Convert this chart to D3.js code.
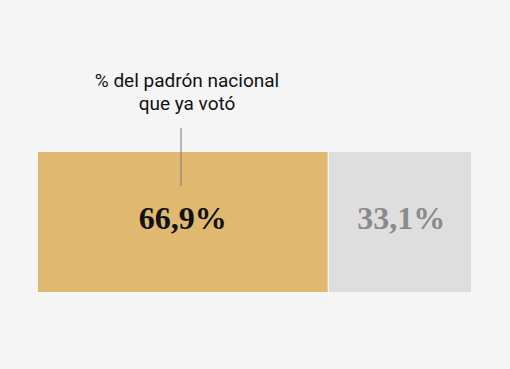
<!DOCTYPE html>
<html><head><meta charset="utf-8">
<script src="https://cdn.jsdelivr.net/npm/d3@7"></script>
<style>html,body{margin:0;padding:0;background:#f5f5f5;}svg{display:block;}</style>
</head><body>
<svg id="c" width="510" height="369"></svg>
<script>
const categories = ["Votó", "No votó"];
const values = [66.9, 33.1];
const labels = ["66,9%", "33,1%"];
const colors = ["#e0b86f", "#dedede"];
const textColors = ["#111111", "#8a8a8a"];
const annotation = ["% del padrón nacional", "que ya votó"];

const svg = d3.select("#c");
svg.append("rect").attr("width",510).attr("height",369).attr("fill","#f5f5f5");

const x = d3.scaleLinear().domain([0, d3.sum(values)]).range([38, 471]);
const y0 = 152, y1 = 292;
let cum = 0;
const segs = values.map((v,i)=>{ const s={i, start:cum, end:cum+v}; cum+=v; return s; });

svg.selectAll("rect.seg").data(segs).join("rect")
  .attr("class","seg")
  .attr("x", d=> x(d.start) + (d.i>0?1.3:0))
  .attr("y", y0)
  .attr("width", d=> x(d.end)-x(d.start) - (d.i>0?1.3:0))
  .attr("height", y1-y0)
  .attr("fill", d=> colors[d.i]);

svg.selectAll("text.val").data(segs).join("text")
  .attr("class","val")
  .attr("x", d=> (x(d.start)+x(d.end))/2 + (d.i>0?2:0))
  .attr("y", 229)
  .attr("text-anchor","middle")
  .attr("font-family","'Liberation Serif', serif")
  .attr("font-weight","bold")
  .attr("font-size",32)
  .attr("fill", d=> textColors[d.i])
  .text(d=> labels[d.i]);

// leader line
svg.append("line").attr("x1",181).attr("x2",181).attr("y1",128).attr("y2",186)
  .attr("stroke","#7a7a7a").attr("stroke-width",1);

svg.append("text").attr("x",187).attr("text-anchor","middle")
  .attr("font-family","Roboto, sans-serif").attr("font-size",19).attr("fill","#111")
  .selectAll("tspan").data(annotation).join("tspan")
  .attr("x",187).attr("y",(d,i)=> 87 + i*23).text(d=>d);
</script>
</body></html>
